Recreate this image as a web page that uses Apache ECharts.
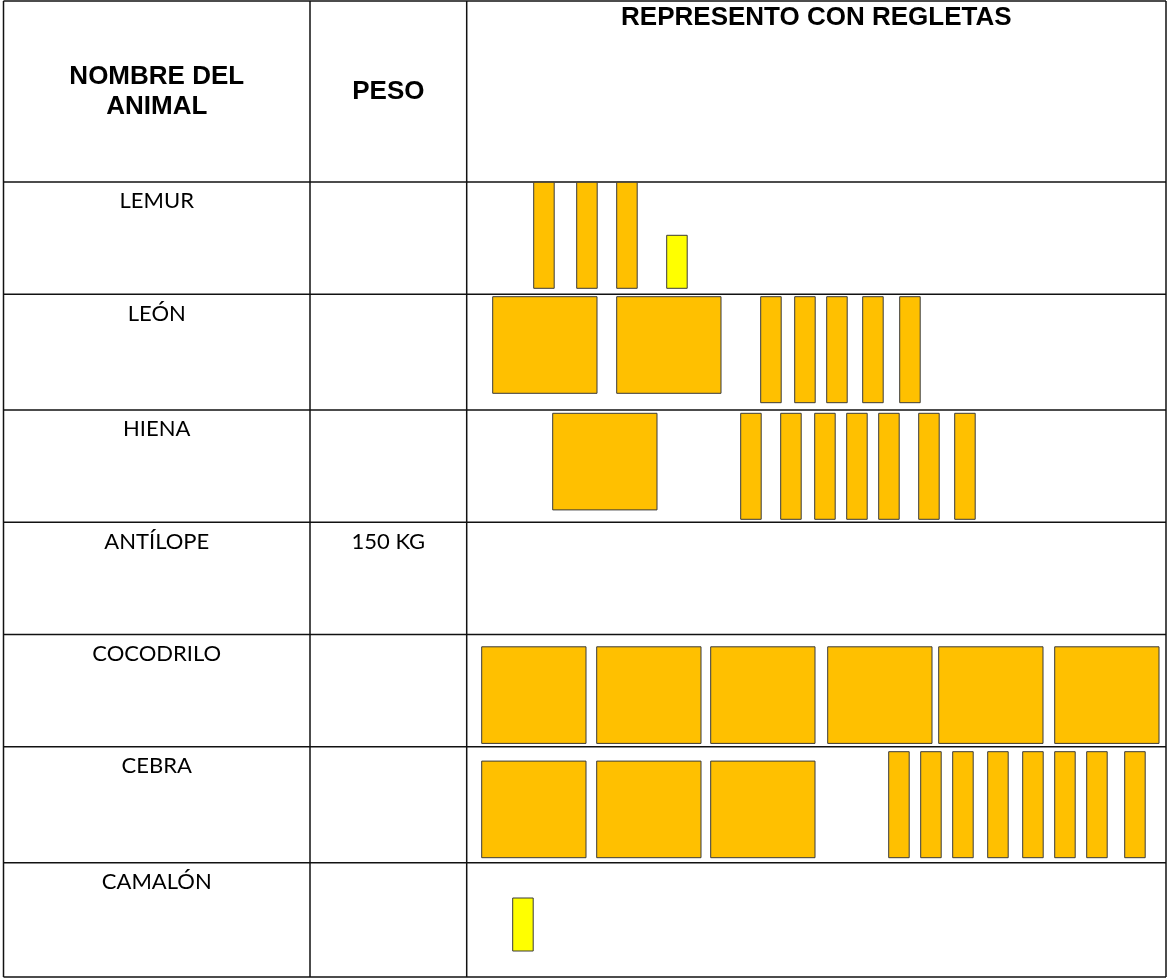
<!DOCTYPE html>
<html lang="es">
  <head>
    <meta charset="UTF-8" />
    <meta name="viewport" content="width=device-width, initial-scale=1.0" />
    <script src="https://cdn.jsdelivr.net/npm/echarts@6/dist/echarts.min.js"></script>
    <title>Regletas</title>
    <style>
      html, body { margin: 0; padding: 0; background: #fff; }
      #app { width: 1167px; height: 980px; }
    </style>
  </head>
  <body>
    <div id="app"></div>

    <script>
      // datos de la tabla
      const encabezados = ["NOMBRE DEL\nANIMAL", "PESO", "REPRESENTO CON REGLETAS"];
      const animales = ["LEMUR", "LEÓN", "HIENA", "ANTÍLOPE", "COCODRILO", "CEBRA", "CAMALÓN"];
      const pesos = ["", "", "", "150 KG", "", "", ""];

      // posición (eje x de la columna de regletas) de cada pieza, por animal
      const centenas = [[], [26, 150], [86], [], [15, 130, 244, 361, 472, 588], [15, 130, 244], []];
      const decenas = [
        [67, 110, 150],
        [294, 328, 360, 396, 433],
        [274, 314, 348, 380, 412, 452, 488],
        [],
        [],
        [422, 454, 486, 521, 556, 588, 620, 658],
        [],
      ];
      const unidades = [[200], [], [], [], [], [], [46]];

      // maquetación
      const colEdges = [3.5, 310, 466.7, 1166];
      const rowEdges = [1, 182, 294.3, 410, 522.3, 634.5, 746.7, 862.7, 977];
      // alineación vertical de las piezas en cada fila (desde el borde superior)
      const anchors = [
        { bottom: 106.3 },
        { top: 2.4 },
        { top: 3.3 },
        { top: 0 },
        { top: 12.3 },
        { bottom: 111 },
        { bottom: 88.3 },
      ];
      const sizes = [
        [104.3, 96.6], // centena
        [20.5, 106], // decena
        [20.5, 53], // unidad
      ];
      const fills = ["#FFC000", "#FFC000", "#FFFF00"];

      const piezas = [];
      [centenas, decenas, unidades].forEach((lista, k) => {
        lista.forEach((xs, fila) => xs.forEach((x) => piezas.push([fila, x, k])));
      });

      const lineas = [];
      rowEdges.forEach((y) => lineas.push([0, y]));
      colEdges.forEach((x) => lineas.push([1, x]));

      const textos = [];
      encabezados.forEach((t, c) => textos.push([c, 0]));
      animales.forEach((t, r) => textos.push([0, r + 1]));
      pesos.forEach((t, r) => t && textos.push([1, r + 1]));

      const echart = echarts.init(document.getElementById("app"));

      echart.setOption({
        animation: false,
        grid: { left: 0, right: 0, top: 0, bottom: 0 },
        xAxis: { type: "value", min: 0, max: 1167, show: false },
        yAxis: { type: "value", min: 0, max: 980, inverse: true, show: false },
        series: [
          {
            name: "tabla",
            type: "custom",
            silent: true,
            data: lineas,
            renderItem(params, api) {
              const horiz = api.value(0) === 0;
              const v = api.value(1);
              const a = horiz ? api.coord([colEdges[0], v]) : api.coord([v, rowEdges[0]]);
              const b = horiz
                ? api.coord([colEdges[colEdges.length - 1], v])
                : api.coord([v, rowEdges[rowEdges.length - 1]]);
              return {
                type: "line",
                shape: { x1: a[0], y1: a[1], x2: b[0], y2: b[1] },
                style: { stroke: "#111", lineWidth: 1.5 },
              };
            },
          },
          {
            name: "texto",
            type: "custom",
            silent: true,
            data: textos,
            renderItem(params, api) {
              const c = api.value(0);
              const r = api.value(1);
              const cx = (colEdges[c] + colEdges[c + 1]) / 2;
              let text, cy, font;
              if (r === 0) {
                text = encabezados[c];
                cy = c === 2 ? 18.3 : 91.8;
                font = { fontFamily: "Liberation Sans, Arial", fontWeight: "bold", fontSize: 26, lineHeight: 30 };
              } else {
                text = c === 0 ? animales[r - 1] : pesos[r - 1];
                cy = rowEdges[r] + 19.2;
                font = { fontFamily: "Lato", fontSize: 22 };
              }
              const p = api.coord([cx, cy]);
              return {
                type: "text",
                x: p[0],
                y: p[1],
                style: Object.assign(
                  { text, fill: "#000", align: "center", verticalAlign: "middle" },
                  font
                ),
              };
            },
          },
          {
            name: "regletas",
            type: "custom",
            data: piezas,
            renderItem(params, api) {
              const fila = api.value(0);
              const k = api.value(2);
              const [w, h] = sizes[k];
              const x = colEdges[2] + api.value(1);
              const top = rowEdges[fila + 1];
              const a = anchors[fila];
              const y = a.bottom != null ? top + a.bottom - h : top + a.top;
              const p0 = api.coord([x, y]);
              const p1 = api.coord([x + w, y + h]);
              return {
                type: "rect",
                shape: { x: p0[0], y: p0[1], width: p1[0] - p0[0], height: p1[1] - p0[1] },
                style: { fill: fills[k], stroke: "#3a3a3a", lineWidth: 1 },
              };
            },
          },
        ],
      });
    </script>
  </body>
</html>
